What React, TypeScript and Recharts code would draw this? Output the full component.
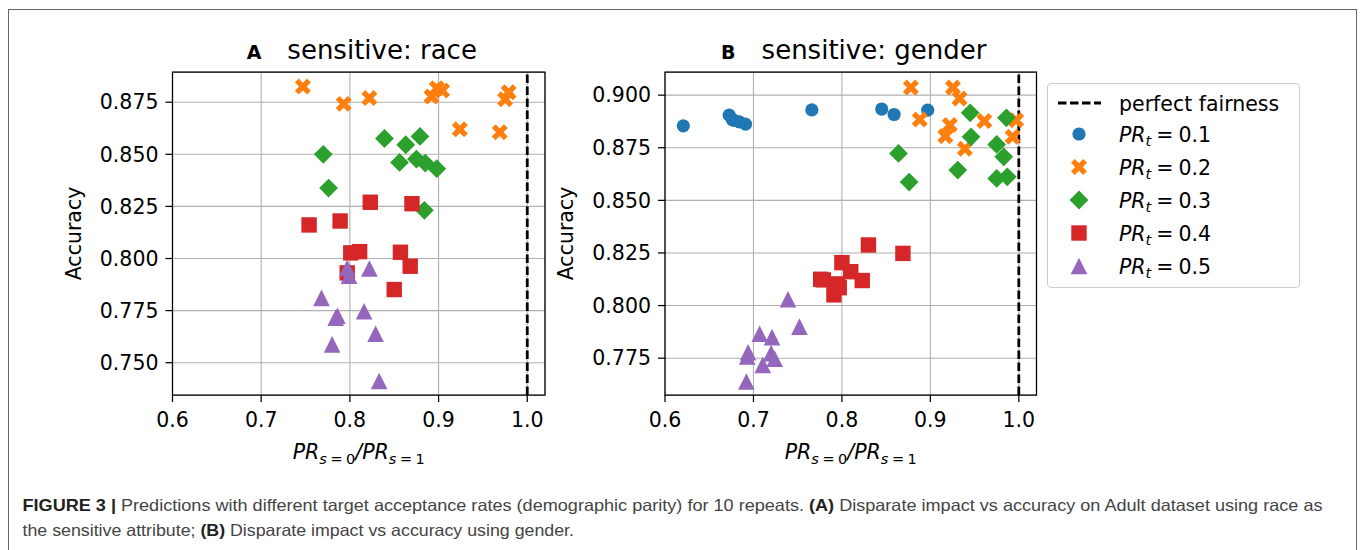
import React from 'react';
import { ScatterChart, Scatter, XAxis, YAxis, CartesianGrid, ReferenceLine, ReferenceArea } from 'recharts';

// panel A: sensitive attribute = race
const raceX = [0.6, 0.7, 0.8, 0.9, 1.0];
const raceYTicks = [0.75, 0.775, 0.8, 0.825, 0.85, 0.875];
const raceYDomain = [0.7345, 0.8895];

const racePr2 = [
  { x: 0.747, y: 0.8825 }, { x: 0.793, y: 0.8742 }, { x: 0.822, y: 0.877 }, { x: 0.892, y: 0.8777 },
  { x: 0.898, y: 0.8817 }, { x: 0.904, y: 0.8806 }, { x: 0.924, y: 0.862 }, { x: 0.969, y: 0.8606 },
  { x: 0.975, y: 0.8764 }, { x: 0.979, y: 0.8798 },
];
const racePr3 = [
  { x: 0.77, y: 0.85 }, { x: 0.776, y: 0.8338 }, { x: 0.839, y: 0.8576 }, { x: 0.863, y: 0.8546 },
  { x: 0.879, y: 0.8586 }, { x: 0.856, y: 0.8461 }, { x: 0.875, y: 0.8477 }, { x: 0.885, y: 0.8458 },
  { x: 0.898, y: 0.8431 }, { x: 0.884, y: 0.8231 },
];
const racePr4 = [
  { x: 0.754, y: 0.8161 }, { x: 0.789, y: 0.818 }, { x: 0.823, y: 0.827 }, { x: 0.87, y: 0.8263 },
  { x: 0.801, y: 0.8027 }, { x: 0.811, y: 0.8033 }, { x: 0.857, y: 0.803 }, { x: 0.868, y: 0.7963 },
  { x: 0.797, y: 0.7931 }, { x: 0.85, y: 0.7851 },
];
const racePr5 = [
  { x: 0.797, y: 0.7955 }, { x: 0.799, y: 0.7918 }, { x: 0.822, y: 0.7952 }, { x: 0.768, y: 0.7811 },
  { x: 0.784, y: 0.7716 }, { x: 0.786, y: 0.7725 }, { x: 0.816, y: 0.7747 }, { x: 0.78, y: 0.7588 },
  { x: 0.829, y: 0.7639 }, { x: 0.833, y: 0.7412 },
];

// panel B: sensitive attribute = gender
const genderYTicks = [0.775, 0.8, 0.825, 0.85, 0.875, 0.9];
const genderYDomain = [0.7575, 0.911];

const genderPr1 = [
  { x: 0.6207, y: 0.8854 }, { x: 0.6726, y: 0.8905 }, { x: 0.676, y: 0.8884 }, { x: 0.678, y: 0.888 },
  { x: 0.684, y: 0.8873 }, { x: 0.691, y: 0.8862 }, { x: 0.766, y: 0.893 }, { x: 0.845, y: 0.8934 },
  { x: 0.859, y: 0.8908 }, { x: 0.897, y: 0.8929 },
];
const genderPr2 = [
  { x: 0.878, y: 0.9036 }, { x: 0.9256, y: 0.9036 }, { x: 0.933, y: 0.8984 }, { x: 0.888, y: 0.8884 },
  { x: 0.961, y: 0.8877 }, { x: 0.997, y: 0.8881 }, { x: 0.917, y: 0.8805 }, { x: 0.922, y: 0.8858 },
  { x: 0.939, y: 0.8745 }, { x: 0.993, y: 0.8802 },
];
const genderPr3 = [
  { x: 0.864, y: 0.8723 }, { x: 0.876, y: 0.8587 }, { x: 0.931, y: 0.8644 }, { x: 0.945, y: 0.8916 },
  { x: 0.946, y: 0.8802 }, { x: 0.975, y: 0.8766 }, { x: 0.983, y: 0.8707 }, { x: 0.986, y: 0.8892 },
  { x: 0.975, y: 0.8604 }, { x: 0.987, y: 0.8612 },
];
const genderPr4 = [
  { x: 0.83, y: 0.8288 }, { x: 0.869, y: 0.8248 }, { x: 0.8, y: 0.8204 }, { x: 0.81, y: 0.8161 },
  { x: 0.776, y: 0.8125 }, { x: 0.779, y: 0.8122 }, { x: 0.823, y: 0.8119 }, { x: 0.795, y: 0.8103 },
  { x: 0.791, y: 0.8051 }, { x: 0.797, y: 0.8085 },
];
const genderPr5 = [
  { x: 0.739, y: 0.803 }, { x: 0.752, y: 0.79 }, { x: 0.707, y: 0.7866 }, { x: 0.721, y: 0.785 },
  { x: 0.694, y: 0.7778 }, { x: 0.693, y: 0.7758 }, { x: 0.72, y: 0.7774 }, { x: 0.724, y: 0.7747 },
  { x: 0.7105, y: 0.7718 }, { x: 0.692, y: 0.7639 },
];

const prLevels = ['0.1', '0.2', '0.3', '0.4', '0.5'];
const markerKinds = ['circle', 'x', 'diamond', 'square', 'triangle'];
const colors = ['#1f77b4', '#ff7f0e', '#2ca02c', '#d62728', '#9467bd'];

const FONT = 'DejaVu Sans, sans-serif';

function Marker({ kind, cx, cy, fill }: any) {
  if (cx == null || cy == null) return null;
  if (kind === 'circle') return <circle cx={cx} cy={cy} r={6.6} fill={fill} />;
  if (kind === 'square') return <rect x={cx - 7.7} y={cy - 7.7} width={15.4} height={15.4} fill={fill} />;
  if (kind === 'diamond') {
    const h = 9.4;
    return <polygon points={`${cx},${cy - h} ${cx + h},${cy} ${cx},${cy + h} ${cx - h},${cy}`} fill={fill} />;
  }
  if (kind === 'triangle') {
    const h = 8.3;
    return <polygon points={`${cx},${cy - h} ${cx + h},${cy + h} ${cx - h},${cy + h}`} fill={fill} />;
  }
  // filled X: a plus sign turned 45 degrees
  const s = 8.6, w = 2.7;
  const plus = [[-w, -s], [w, -s], [w, -w], [s, -w], [s, w], [w, w], [w, s], [-w, s], [-w, w], [-s, w], [-s, -w], [-w, -w]];
  const c = Math.SQRT1_2;
  const pts = plus.map(([px, py]) => `${cx + (px - py) * c},${cy + (px + py) * c}`).join(' ');
  return <polygon points={pts} fill={fill} />;
}

function PanelTitle(props: any) {
  const vb = props.viewBox || { x: 0, y: 0, width: 0 };
  return (
    <text x={vb.x + vb.width / 2 + 3} y={vb.y - 13} textAnchor="middle" fontFamily={FONT} fill="#000">
      <tspan fontWeight="bold" fontSize={19}>{props.letter}</tspan>
      <tspan fontSize={26} dx={26}>{props.text}</tspan>
    </text>
  );
}

function XLabel(props: any) {
  const vb = props.viewBox || { x: 0, y: 0, width: 0 };
  const sub = 14.5;
  return (
    <text x={vb.x + vb.width / 2} y={vb.y + 64} textAnchor="middle" fontFamily={FONT} fontSize={20.5} fill="#000">
      <tspan fontStyle="italic">PR</tspan>
      <tspan fontSize={sub} dy={5} fontStyle="italic">s</tspan>
      <tspan fontSize={sub} dx={3.5}>=</tspan>
      <tspan fontSize={sub} dx={3.5}>0</tspan>
      <tspan fontStyle="italic" dy={-5}>/PR</tspan>
      <tspan fontSize={sub} dy={5} fontStyle="italic">s</tspan>
      <tspan fontSize={sub} dx={3.5}>=</tspan>
      <tspan fontSize={sub} dx={3.5}>1</tspan>
    </text>
  );
}

function YLabel(props: any) {
  const vb = props.viewBox || { x: 0, y: 0, width: 0, height: 0 };
  const x = vb.x + vb.width - 92;
  const y = vb.y + vb.height / 2;
  return (
    <text x={x} y={y} transform={`rotate(-90 ${x} ${y})`} textAnchor="middle" fontFamily={FONT} fontSize={20.5} fill="#000">
      Accuracy
    </text>
  );
}

const tickStyle = { fontSize: 20.5, fontFamily: FONT, fill: '#000' };

function Panel({ left, width, marginLeft, marginRight, letter, title, yTicks, yDomain, series }: any) {
  return (
    <div style={{ position: 'absolute', left, top: 0 }}>
      <ScatterChart width={width} height={480} margin={{ top: 72, right: marginRight, left: marginLeft, bottom: 0 }}>
        <CartesianGrid stroke="#b0b0b0" strokeWidth={1.1} />
        <XAxis
          type="number"
          dataKey="x"
          domain={[0.6, 1.02]}
          ticks={raceX}
          allowDataOverflow
          height={85}
          axisLine={false}
          tickLine={{ stroke: '#000', strokeWidth: 1.25 }}
          tickSize={7}
          tickMargin={10}
          tick={tickStyle}
          tickFormatter={(v: number) => v.toFixed(1)}
          label={{ content: (p: any) => <XLabel {...p} /> }}
        />
        <YAxis
          type="number"
          dataKey="y"
          domain={yDomain}
          ticks={yTicks}
          allowDataOverflow
          width={100}
          axisLine={false}
          tickLine={{ stroke: '#000', strokeWidth: 1.25 }}
          tickSize={7}
          tickMargin={7}
          tick={tickStyle}
          tickFormatter={(v: number) => v.toFixed(3)}
          label={{ content: (p: any) => <YLabel {...p} /> }}
        />
        {series.map((s: any) => (
          <Scatter
            key={s.level}
            name={`PR_t = ${s.level}`}
            data={s.data}
            fill={s.color}
            isAnimationActive={false}
            shape={(p: any) => <Marker kind={s.kind} cx={p.cx} cy={p.cy} fill={s.color} />}
          />
        ))}
        <ReferenceLine x={1} stroke="#000" strokeWidth={2.8} strokeDasharray="8.5 3.5" ifOverflow="visible" />
        <ReferenceArea
          x1={0.6}
          x2={1.02}
          y1={yDomain[0]}
          y2={yDomain[1]}
          fill="none"
          fillOpacity={0}
          stroke="#000"
          strokeWidth={1.25}
          ifOverflow="visible"
          label={{ content: (p: any) => <PanelTitle {...p} letter={letter} text={title} /> }}
        />
      </ScatterChart>
    </div>
  );
}

function LegendBox() {
  const rowY = [19, 50, 83, 116, 149, 182];
  return (
    <div
      style={{
        position: 'absolute', left: 1047, top: 83, width: 251, height: 203,
        border: '1.3px solid #cccccc', borderRadius: 4, background: '#fff',
      }}
    >
      <svg width={251} height={203} style={{ display: 'block' }}>
        <line x1={10} x2={53} y1={rowY[0]} y2={rowY[0]} stroke="#000" strokeWidth={2.8} strokeDasharray="8.5 3.5" />
        <text x={71} y={rowY[0] + 7.5} fontFamily={FONT} fontSize={20.5} fill="#000">perfect fairness</text>
        {prLevels.map((lv, i) => (
          <g key={lv}>
            <Marker kind={markerKinds[i]} cx={31} cy={rowY[i + 1]} fill={colors[i]} />
            <text x={71} y={rowY[i + 1] + 7.5} fontFamily={FONT} fontSize={20.5} fill="#000">
              <tspan fontStyle="italic">PR</tspan>
              <tspan fontStyle="italic" fontSize={14.5} dy={4}>t</tspan>
              <tspan dy={-4} dx={5}>=</tspan>
              <tspan dx={5}>{lv}</tspan>
            </text>
          </g>
        ))}
      </svg>
    </div>
  );
}

export default function App() {
  const raceSeries = [racePr2, racePr3, racePr4, racePr5].map((data, i) => ({
    data, level: prLevels[i + 1], kind: markerKinds[i + 1], color: colors[i + 1],
  }));
  const genderSeries = [genderPr1, genderPr2, genderPr3, genderPr4, genderPr5].map((data, i) => ({
    data, level: prLevels[i], kind: markerKinds[i], color: colors[i],
  }));

  return (
    <div style={{ position: 'absolute', left: 0, top: 0, width: 1363, height: 550, background: '#fff', overflow: 'hidden' }}>
      <div style={{ position: 'absolute', left: 8, top: 9, width: 1347, height: 600, border: '1px solid #666' }} />
      <Panel left={0} width={560} marginLeft={72.5} marginRight={15} letter="A" title="sensitive: race"
        yTicks={raceYTicks} yDomain={raceYDomain} series={raceSeries} />
      <Panel left={540} width={510} marginLeft={25} marginRight={13.5} letter="B" title="sensitive: gender"
        yTicks={genderYTicks} yDomain={genderYDomain} series={genderSeries} />
      <LegendBox />
      <svg style={{ position: 'absolute', left: 0, top: 470 }} width={1363} height={80}>
        <text x={22.5} y={41} fontFamily="Liberation Sans, Arial, sans-serif" fontSize={16.5} fill="#444"
          textLength={1300} lengthAdjust="spacingAndGlyphs">
          <tspan fontWeight="bold" fill="#222">FIGURE 3 | </tspan>
          Predictions with different target acceptance rates (demographic parity) for 10 repeats.{' '}
          <tspan fontWeight="bold" fill="#222">(A)</tspan> Disparate impact vs accuracy on Adult dataset using race as
        </text>
        <text x={22.5} y={66} fontFamily="Liberation Sans, Arial, sans-serif" fontSize={16.5} fill="#444"
          textLength={551.5} lengthAdjust="spacingAndGlyphs">
          the sensitive attribute; <tspan fontWeight="bold" fill="#222">(B)</tspan> Disparate impact vs accuracy using gender.
        </text>
      </svg>
    </div>
  );
}
